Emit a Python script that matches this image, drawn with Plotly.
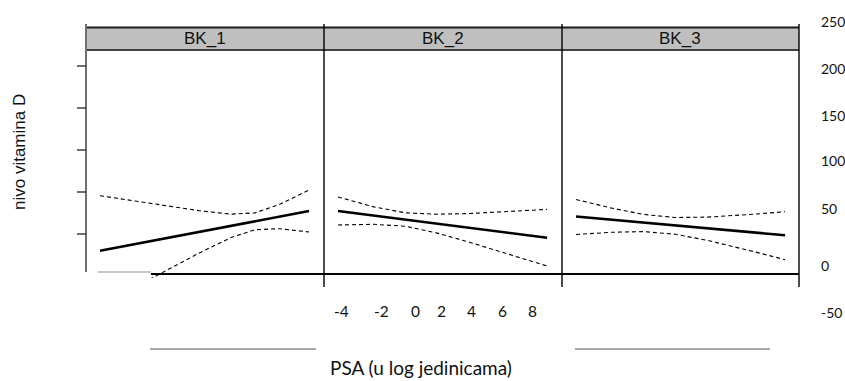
import plotly.graph_objects as go

W, H = 845, 381

# ---- data ----
panels = ["BK_1", "BK_2", "BK_3"]
psa = [-4.25, -2, 0, 2, 4, 5.5, 7, 8.9]
bk1_fit = [13.2, 20.2, 26.4, 32.7, 38.9, 43.5, 48.2, 54.1]
bk1_up = [69.9, 64.1, 59.1, 54.4, 50.9, 52.2, 60.6, 75.8]
bk1_lo = [-43.5, -23.7, -6.3, 10.9, 26.8, 34.8, 35.9, 32.5]
bk2_fit = [54.1, 49.4, 45.3, 41.1, 36.9, 33.7, 30.6, 26.6]
bk2_up = [68.6, 58.4, 52.2, 50.8, 51.5, 52.8, 54.1, 55.8]
bk2_lo = [39.7, 40.4, 38.4, 31.3, 22.0, 14.6, 7.1, -2.6]
bk3_fit = [48.5, 45.2, 42.3, 39.3, 36.4, 34.1, 31.9, 29.1]
bk3_up = [66.0, 57.1, 50.6, 47.4, 47.8, 49.1, 50.9, 53.4]
bk3_lo = [29.9, 32.2, 32.9, 30.1, 23.9, 18.1, 12.0, 3.9]

x_tick_labels = ["-4", "-2", "0", "2", "4", "6", "8"]
y_tick_labels = ["250", "200", "150", "100", "50", "0", "-50"]
x_title = "PSA (u log jedinicama)"
y_title = "nivo vitamina D"


def X(p):
    return p / W


def Y(p):
    return 1 - p / H


fig = go.Figure()

series = [(bk1_fit, bk1_up, bk1_lo), (bk2_fit, bk2_up, bk2_lo), (bk3_fit, bk3_up, bk3_lo)]
for i, (fit, up, lo) in enumerate(series):
    suf = "" if i == 0 else str(i + 1)
    xa, ya = "x" + suf, "y" + suf
    for vals in (up, lo):
        fig.add_trace(go.Scatter(x=psa, y=vals, mode="lines", xaxis=xa, yaxis=ya,
                                 line=dict(color="black", width=1.1, dash="4px,3px"),
                                 showlegend=False, hoverinfo="skip"))
    fig.add_trace(go.Scatter(x=psa, y=fit, mode="lines", xaxis=xa, yaxis=ya,
                             line=dict(color="black", width=2.6),
                             showlegend=False, hoverinfo="skip"))

panel_px = [(86, 324), (324, 562), (562, 798)]
ydom = [Y(278), Y(50)]
yr = [-14.95, 220.1]
ax_common = dict(visible=False, showgrid=False, zeroline=False, fixedrange=True)
layout_axes = {}
for i, (a, b) in enumerate(panel_px):
    suf = "" if i == 0 else str(i + 1)
    xr = [-5.13, -5.13 + (b - a) / 15.9]
    layout_axes["xaxis" + suf] = dict(domain=[X(a), X(b)], range=xr, anchor="y" + suf, **ax_common)
    layout_axes["yaxis" + suf] = dict(domain=ydom, range=yr, anchor="x" + suf, **ax_common)

shapes = []


def seg(x0, y0, x1, y1, color="black", width=1.0):
    shapes.append(dict(type="line", xref="paper", yref="paper",
                       x0=X(x0), y0=Y(y0), x1=X(x1), y1=Y(y1),
                       line=dict(color=color, width=width)))


# strip
shapes.append(dict(type="rect", xref="paper", yref="paper", x0=X(86), x1=X(799), y0=Y(50), y1=Y(27),
                   fillcolor="#bfbfbf", line=dict(width=0), layer="below"))
seg(86, 27.5, 799, 27.5, "#1a1a1a", 2)
seg(86, 50, 799, 50, "#404040", 2)
# panel borders
seg(86, 24, 86, 272, "#707070", 2)
for xv in (324, 562, 799):
    seg(xv, 24, xv, 287, "black", 1.4)
# left ticks
for yv in (66, 108, 150, 192, 234):
    seg(77, yv, 86, yv, "#222222", 1.3)
# bottom lines
seg(98, 272, 151, 272, "#b4b4b4", 1.3)
seg(151, 274, 799, 274, "black", 2.2)
seg(150, 349, 316, 349, "#8c8c8c", 1.5)
seg(575, 349, 770, 349, "#8c8c8c", 1.5)

ann = []
strip_font = dict(family="Liberation Sans, Arial", size=17, color="#111111")
for name, (a, b) in zip(panels, panel_px):
    ann.append(dict(text=name, x=X((a + b) / 2), y=Y(38.5), xref="paper", yref="paper",
                    showarrow=False, font=strip_font, xanchor="center", yanchor="middle"))

ann.append(dict(text=y_title, x=X(19), y=Y(152), xref="paper", yref="paper", textangle=-90,
                showarrow=False, font=dict(family="Liberation Sans, Arial", size=17, color="#111111"),
                xanchor="center", yanchor="middle"))

xl_font = dict(family="Lato, Open Sans", size=15.5, color="#111111")
for t, cx in zip(x_tick_labels, [341.7, 381.7, 415.2, 441.7, 471.8, 502.5, 532.8]):
    ann.append(dict(text=t, x=X(cx), y=Y(310.5), xref="paper", yref="paper", showarrow=False,
                    font=xl_font, xanchor="center", yanchor="middle"))

for t, cy in zip(y_tick_labels, [21.7, 68.3, 115, 160, 208, 265, 312]):
    ann.append(dict(text=t, x=X(818.5), y=Y(cy), xref="paper", yref="paper", showarrow=False,
                    font=dict(family="Lato, Open Sans", size=14, color="#111111"),
                    xanchor="left", yanchor="middle"))

ann.append(dict(text=x_title, x=X(421), y=Y(381), xref="paper", yref="paper", showarrow=False,
                font=dict(family="Lato, Open Sans", size=19, color="#111111"),
                xanchor="center", yanchor="bottom"))

fig.update_layout(width=W, height=H, autosize=False, margin=dict(l=0, r=0, t=0, b=0, pad=0),
                  paper_bgcolor="white", plot_bgcolor="rgba(0,0,0,0)",
                  shapes=shapes, annotations=ann, showlegend=False, **layout_axes)

fig.write_html("out.html")
